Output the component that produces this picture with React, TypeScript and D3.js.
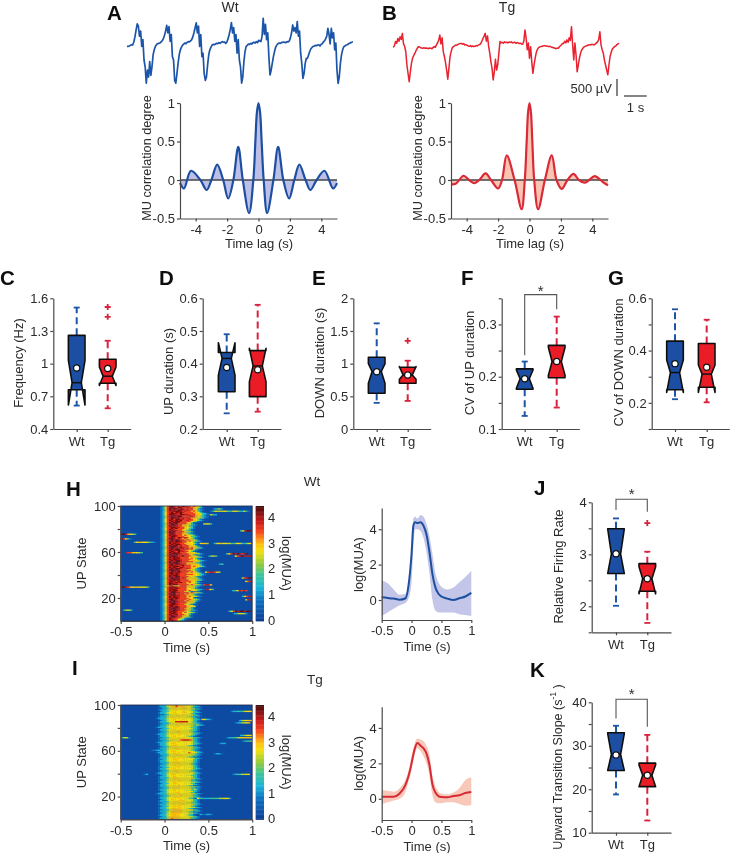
import React, { useEffect, useRef } from 'react';
import * as d3 from 'd3';

const FONT = '"Liberation Sans", Arial, sans-serif';
const BLUE = '#1b4fa4';
const RED = '#ec1c26';
const WHISK_RED = '#d8243c';
const INK = '#2b2b2b';
const AXIS = '#4a4a4a';

// raw LFP traces, one sample every 0.05 s, in uV
const traceDt = 0.05;
const traceWt = [
  -100, -100, -90, -70, -50, -60, 30, 180, 380, 560,
  500, 200, 350, -100, 100, -500, -700, -1180, -800, -1000,
  -550, -950, -700, -350, -200, -100, -50, -20, -10, 0,
  30, 60, 130, 220, 350, 520, 300, 480, 50, 250,
  -400, -500, -1100, -1180, -900, -600, -350, -200, -120, -60,
  -30, 0, -20, 20, 40, 30, 60, 100, 180, 300,
  450, 590, 300, 500, -100, 250, -400, -300, -900, -1100,
  -1000, -650, -350, -200, -120, -60, -40, -50, -30, -10,
  -20, 10, -10, 20, 40, 20, 30, -10, 30, 120,
  250, 400, 600, 300, 450, 50, 250, -300, 100, -500,
  -700, -1180, -1000, -550, -250, -100, -70, -30, -40, -10,
  -30, 10, 20, 0, 40, 10, 80, 60, 40, 200,
  725, 250, 550, 100, 300, -400, -940, -800, -600, -400,
  -250, -120, -60, -20, 0, -10, 10, 20, 30, 20,
  10, 40, 30, 60, 150, 300, 530, 350, 450, 300,
  630, 200, 350, -300, -600, -1040, -900, -600, -450, -450,
  -350, -250, -170, -130, -100, -90, -70, -80, -60, -50,
  -90, -40, -20, 30, 60, 120, 200, 430, 250, -30,
  430, 150, 300, -200, 0, -800, -1186, -1000, -600, -350,
  -200, -110, -90, -60, -50, -30, -10, 10, 20, 40,
];
const traceTg = [
  20, 70, 190, 140, 280, 200, 330, 250, 430, 120,
  50, -110, -500, -750, -990, -700, -450, -300, -220, -160,
  -80, -20, 40, 30, 10, 0, -10, 10, -10, 0,
  -10, -20, 0, -10, -20, 10, 40, 20, 90, 150,
  235, 380, 120, 300, -100, -250, -420, -650, -920, -600,
  -255, -100, 10, 40, 60, 90, 80, 110, 120, 135,
  135, 110, 130, 90, 100, 80, 60, 50, 70, 40,
  60, 40, 50, 70, 60, 90, 100, 130, 200, 280,
  350, 430, 200, 350, 50, -150, -400, -600, -940, -700,
  -330, -650, -500, -150, 190, 150, 170, 140, 180, 160,
  170, 150, 175, 165, 180, 150, 160, 170, 140, 160,
  150, 130, 140, 120, 110, 200, 530, 300, -50, 150,
  -300, 40, -400, -745, -500, -300, -130, -40, 10, 30,
  40, 50, 60, 70, 60, 60, 50, 40, 50, 30,
  20, 10, 0, -20, -10, -10, 20, 60, 90, 130,
  130, 200, 150, 240, 170, 300, 220, 627, 100, -350,
  150, -200, -700, -500, -300, -150, -60, -10, 30, 50,
  60, 80, 90, 100, 90, 110, 100, 90, 120, 150,
  180, 250, 480, 100, -50, -150, -350, -500, -650, -790,
  -500, -250, -120, -30, 10, 40, 60, 100, 120, 135,
];

// MU correlation vs lag
const lagWt = [-5, -4.75, -4.3, -3.7, -3.3, -3, -2.63, -2.25, -1.93, -1.6, -1.29, -1, -0.6, -0.33, -0.2, -0.1, 0, 0.1, 0.2, 0.33, 0.55, 0.95, 1.25, 1.58, 1.95, 2.28, 2.6, 3, 3.3, 3.7, 4.2, 4.75, 5];
const corrWt = [-0.04, -0.11, 0.12, 0, -0.13, 0, 0.2, 0, -0.24, 0, 0.43, 0, -0.43, 0, 0.5, 0.88, 1, 0.88, 0.5, 0, -0.43, 0, 0.43, 0, -0.24, 0, 0.2, 0, -0.13, 0, 0.12, -0.11, -0.04];
const lagTg = [-5, -4.7, -4.2, -3.85, -3.5, -3.2, -2.8, -2.45, -2, -1.75, -1.45, -0.95, -0.5, -0.3, -0.18, -0.09, 0, 0.09, 0.18, 0.3, 0.55, 0.98, 1.42, 1.72, 2.05, 2.42, 2.8, 3.15, 3.5, 3.8, 4.15, 4.7, 5];
const corrTg = [-0.055, -0.05, 0.055, 0, -0.04, 0, 0.085, 0, -0.11, 0, 0.32, 0, -0.38, 0, 0.5, 0.88, 1, 0.88, 0.5, 0, -0.38, 0, 0.32, 0, -0.115, 0, 0.08, 0, -0.035, 0, 0.05, -0.03, -0.07];

// box stats: q1, median, q3, notch low, notch high, whisker low, whisker high, mean
const freqWt = [0.76, 0.825, 1.26, 0.62, 1.03, 0.615, 1.515, 0.96];
const freqTg = [0.82, 0.885, 1.04, 0.8, 0.97, 0.59, 1.21, 0.955];
const freqTgOut = [1.43, 1.52];
const upDurWt = [0.314, 0.416, 0.434, 0.365, 0.464, 0.248, 0.49, 0.388];
const upDurTg = [0.299, 0.393, 0.44, 0.345, 0.447, 0.253, 0.58, 0.381];
const downDurWt = [0.546, 0.88, 1.097, 0.7, 1.0, 0.4, 1.617, 0.877];
const downDurTg = [0.7, 0.827, 0.944, 0.76, 0.955, 0.43, 1.045, 0.827];
const downDurTgOut = [1.35];
const cvUpWt = [0.176, 0.196, 0.215, 0.178, 0.213, 0.125, 0.229, 0.196];
const cvUpTg = [0.198, 0.229, 0.26, 0.203, 0.256, 0.141, 0.315, 0.229];
const cvDownWt = [0.25, 0.316, 0.436, 0.24, 0.364, 0.214, 0.558, 0.35];
const cvDownTg = [0.26, 0.31, 0.427, 0.24, 0.345, 0.202, 0.518, 0.336];
const relRateWt = [2.63, 3.01, 3.49, 2.63, 3.49, 2.01, 3.69, 3.01];
const relRateTg = [2.29, 2.53, 2.82, 2.24, 2.76, 1.68, 3.05, 2.53];
const relRateTgOut = [3.6];
const slopeWt = [24.3, 28, 33, 24.3, 32.8, 18.8, 34.6, 27.9];
const slopeTg = [20.6, 23.2, 26, 20.6, 25.6, 12.8, 32.5, 23.2];

// population MUA, mean with upper/lower band
const muaTime = [-0.5, -0.4, -0.3, -0.2, -0.1, -0.05, 0, 0.03, 0.06, 0.1, 0.15, 0.2, 0.25, 0.3, 0.35, 0.4, 0.45, 0.5, 0.6, 0.7, 0.8, 0.9, 1];
const muaWt = [0.15, 0.12, 0.08, 0.02, 0.1, 0.85, 2.6, 4.2, 4.4, 4.35, 4.4, 4.2, 3.7, 2.7, 1.45, 0.7, 0.35, 0.2, 0.08, 0, 0.1, 0.2, 0.4];
const muaWtHi = [1.1, 0.95, 0.6, 0.3, 0.35, 0.9, 2.5, 4.6, 4.7, 4.6, 4.8, 4.7, 4.3, 3.6, 2.6, 1.5, 1, 0.75, 0.6, 0.7, 1, 1.3, 1.65];
const muaWtLo = [-0.9, -0.7, -0.5, -0.3, -0.15, 0.1, 1, 3, 4, 4, 3.9, 3.5, 2.7, 1.5, 0, -0.6, -0.7, -0.7, -0.7, -0.7, -0.8, -0.85, -0.9];
const muaTg = [0.12, 0.12, 0.12, 0.3, 0.8, 1.3, 2, 2.5, 2.9, 3.15, 3, 2.85, 2.55, 1.9, 0.8, 0.35, 0.15, 0.1, 0.08, 0.15, 0.2, 0.32, 0.38];
const muaTgHi = [0.5, 0.45, 0.4, 0.6, 1.1, 1.6, 2.4, 2.8, 3.2, 3.4, 3.35, 3.25, 3, 2.5, 1.3, 0.7, 0.4, 0.3, 0.25, 0.35, 0.6, 1.05, 1.2];
const muaTgLo = [-0.3, -0.2, -0.1, 0, 0.4, 1, 1.6, 2.2, 2.6, 2.85, 2.7, 2.4, 2, 1.3, 0.2, -0.2, -0.25, -0.25, -0.2, -0.2, -0.3, -0.4, -0.35];

// heat map levels, one char per 0.025 s, first row is UP state 100
const heatLevels: Record<string, number> = { '0': 0.2, '1': 0.8, '2': 1.3, '3': 1.8, '4': 2.45, '5': 2.7, '6': 3.0, '7': 3.5, '8': 3.9, '9': 4.3 };
const heatStep = 0.025;
const heatWtStart = -0.05;
const heatWtRows = [
  '1257998787987767653', '12578987997787765431', '1257989978877776531', '12579887998787765321', '1247889998787767531',
  '12578979898777766531', '1257899889777777654321', '12579988799887776653211', '125788989877787765431', '1247898899777787654321',
  '125789988787876665431', '1257897998877876531', '12579889897787765421', '125789899877775431', '1257989987776531',
  '1247898977776531', '12578998776654321', '1257988877665321', '1247899887765431', '1257898977765321',
  '125798877765431', '125789887765321', '1247989777765431', '125799877765321', '1257898777665321',
  '12579898776765431', '124789987776653321', '12578987987875431', '12579987876765421', '125789898776765431',
  '1257898998776765421', '12579889887765531', '124798988776665421', '12578989987766531', '125798997877766531',
  '1257899888777665421', '12479988798776765431', '125789899787877531', '12579889987765431', '1257898798877531',
  '124798989777666531', '12578999887776665421', '12579889877776531', '1247899878977765421', '12579899877776665431',
  '125788989777767531', '1247989988777765421', '125789899877766654321', '12579889987777765431', '1247989987776665321',
  '12578989987766665431', '12579988789777666531', '124788999787776765431', '1257989879877766531', '125789899877876531',
  '1257998987776654321', '124789989777776531', '1257898898777675421', '12579989877766665431', '125789898777777654321',
  '12479899877766665431', '125798899777765431', '1257898987876665431', '12478998977765564321', '12579899877776665431',
  '125789879777776531', '1247988989776765421', '125799887777665431', '12579899777776765431', '1256776667776654321',
  '124789987777666531', '12579889877765431', '12578998777765654321', '1257989977776765431', '124789987776531',
  '12578998877776765431', '125798977776765321', '12478998877765431', '1257989887776765421', '125798998777665',
  '124789898777765321', '1257998877776765431', '125789987776765431', '1247989887776665', '12578998777765421',
  '125789988776531', '12579988777766531', '1247898987776665', '1257989987776531', '125789988776543',
  '12579899877765321', '124789987776531', '12579898776765431', '125789987765531', '124798897776531',
  '1257898877665', '125789987765431', '1247988776521', '125798775431', '125789875321',
];
const heatWtExtras: [number, number, string][] = [
  [98, 0.56, '2342'], [96, 0.52, '135444543345432431'], [79, 0.86, '35899'],
  [76, -0.5, '9986543'], [72, -0.5, '97531'], [69, -0.35, '3566554321'],
  [68, 0.56, '24565544335542345'], [60, -0.45, '87766543'], [59, 0.7, '3579898789'],
  [57, 0.8, '57898888'], [57, 0.5, '2443'], [50, 0.62, '23'], [43, 0.46, '5788764'],
  [38, 0.88, '47899'], [35, 0.92, '5788'], [30, -0.5, '9987656655543'], [27, 0.77, '2358787'],
  [22, 0.88, '25788'], [19, 0.92, '4888'], [10, -0.47, '3653'], [9, 0.73, '3579899899'],
  [7, 0.79, '235542'], [68, 0.4, '5664'], [85, 0.44, '4553'], [32, 0.44, '7886'], [28, 0.46, '8853'], [93, 0.52, '532'],
];
const heatTgStart = -0.1;
const heatTgRows = [
  '01223566676665554321', '012234566766655543221', '00122456565566553210', '011223456556665554321', '0122345556555554321',
  '00122345555565554321', '012234556555665543321', '01223455565555543210', '00012345555565554321', '012234555665555443321',
  '0122345655555544321', '122234555565555543210', '012234556555655543321', '00122455555655554321', '01223455565555543210',
  '012223455556655543321', '0012234555565555443210', '01223455565555544321', '012234555565555543210', '122234555655555433210',
  '00122345555655554321', '012234556555555433210', '01223455556555544321', '00122455566555543210', '012234555565555543321',
  '12223456555655554321', '01223455556555443210', '0122345565555543210', '011223455565555543321', '01223455555665554321',
  '012234565555555443210', '00122345556555554321', '122234555565555543210', '012234566555555543321', '01223455565555554321',
  '0122345665555543210', '00122345565555544321', '012234556555555543321', '01223455566555554321', '00122455555555543210',
  '012234566555655554321', '1222345555655554321', '012234556555555443210', '012223555665555544321', '00122455555655554321',
  '0122345565555543210', '012234555565655544321', '011224556655555553210', '01223455565555544321', '012234555565555543210',
  '01222355665555554321', '0012245555655554321', '012234556556555543210', '01223455566555554321', '011223455565555443210',
  '012234556555555543321', '01223455556555554321', '00122355665555543210', '01223455565555544321', '122234555565555554321',
  '012234566555555543210', '00122455555655443321', '01223455655555554321', '012223556655555543210', '012234555565555544321',
  '01122455655555553210', '01223455556655543321', '012234556555555544321', '00122355665555543210', '01223455556555554321',
  '0122345565655543210', '012234555565555544321', '0112235566555554321', '012234555565555543210', '01223455655555443321',
  '00122455556555554321', '01223455566555543210', '122234555565555544321', '012234556556555543210', '00122345555655554321',
  '012234556665555443321', '0122345555655543210', '00122456555655544321', '01223455556665554321', '012223556655555543210',
  '01122455556655443321', '012234556555655544321', '01223455556655554321', '00122355666555543210', '012234555566555544321',
  '0122345666655543210', '00122345666655554321', '012234566666555543321', '0122345666665543210', '00122456666655544321',
  '012234666665554321', '0122345666655543210', '00122466666555544321', '01223466666555543321', '0122346766665554321',
];
const heatTgExtras: [number, number, string][] = [
  [95, 0.75, '1223334556'], [88, 0.42, '45321'], [87, 0.85, '245566'], [85, 0.8, '1234556'],
  [86, 0.12, '88888854321'], [74, 0.86, '234556'], [72, 0.7, '122334556665'], [69, 0.88, '12334'],
  [72, -0.49, '3541'], [67, 0.62, '122'], [70, 0.18, '78887'], [61, -0.15, '1122'],
  [59, 0.27, '7654321'], [58, 0.56, '1221'], [40, -0.24, '12'], [40, 0.77, '12334455'],
  [19, 0.37, '5332223333445541'], [5, 0.4, '211221'], [27, 0.31, '3421'], [83, 0.36, '4321'],
];

const colorbarTicks = [0, 1, 2, 3, 4];
const jetDomain = [0, 0.2, 0.8, 1.3, 1.8, 2.2, 2.7, 3.0, 3.5, 3.9, 4.3, 4.5];
const jetColors = ['#0a3a8f', '#0c4ca2', '#0f6fc0', '#19b5d8', '#3cc59a', '#8ccb3f', '#f0e010', '#fcc010', '#f5401e', '#c81a1a', '#701010', '#3e0c0c'];

type Sel = d3.Selection<any, unknown, null, undefined>;

function text(g: Sel, x: number, y: number, s: string, o: { anchor?: string; rot?: boolean; size?: number; weight?: string; fill?: string } = {}) {
  const t = g.append('text')
    .attr('font-family', FONT)
    .attr('font-size', o.size || 13)
    .attr('font-weight', o.weight || 'normal')
    .attr('fill', o.fill || INK)
    .attr('text-anchor', o.anchor || 'middle')
    .attr('dominant-baseline', 'central')
    .text(s);
  if (o.rot) t.attr('transform', `translate(${x},${y}) rotate(-90)`);
  else t.attr('x', x).attr('y', y);
  return t;
}

function letter(g: Sel, x: number, y: number, s: string) {
  g.append('text').attr('x', x).attr('y', y)
    .attr('font-family', FONT).attr('font-size', 20.5).attr('font-weight', 'bold').attr('fill', '#111')
    .text(s);
}

function styleAxis(a: Sel) {
  a.selectAll('path,line').attr('stroke', AXIS).attr('stroke-width', 1.2);
  a.selectAll('text').attr('font-family', FONT).attr('font-size', 13).attr('fill', INK);
}

function leftAxis(g: Sel, x: number, y: d3.ScaleLinear<number, number>, ticks: number[], labels: Map<number, string>) {
  const a = g.append('g').attr('transform', `translate(${x},0)`)
    .call(d3.axisLeft(y).tickValues(ticks).tickSize(3).tickSizeOuter(0).tickPadding(2).tickFormat((d: any) => labels.get(+d) ?? ''));
  styleAxis(a);
}

function bottomAxis(g: Sel, y: number, x: d3.ScaleLinear<number, number>, ticks: number[], fmt: (d: number) => string) {
  const a = g.append('g').attr('transform', `translate(0,${y})`)
    .call(d3.axisBottom(x).tickValues(ticks).tickSize(3).tickSizeOuter(0).tickPadding(3).tickFormat((d: any) => fmt(+d)));
  styleAxis(a);
}

function trace(g: Sel, vals: number[], xr: [number, number], yr: [number, number], color: string, width: number) {
  const x = d3.scaleLinear().domain([0, 10]).range(xr);
  const y = d3.scaleLinear().domain([-1200, 600]).range(yr);
  g.append('path')
    .attr('d', d3.line<number>().x((_, i) => x(i * traceDt)).y((d) => y(d))(vals))
    .attr('fill', 'none').attr('stroke', color).attr('stroke-width', width).attr('stroke-linejoin', 'round');
  return { x, y };
}

function corrPanel(g: Sel, left: number, lags: number[], vals: number[], line: string, fill: string) {
  const x = d3.scaleLinear().domain([-5, 5]).range([left, left + 157]);
  const y = d3.scaleLinear().domain([-0.5, 1]).range([218.5, 103]);
  const pts = lags.map((l, i) => [l, vals[i]] as [number, number]);
  const curve = d3.curveCatmullRom.alpha(0.5);
  g.append('path')
    .attr('d', d3.area<[number, number]>().curve(curve).x((d) => x(d[0])).y0(y(0)).y1((d) => y(d[1]))(pts))
    .attr('fill', fill);
  g.append('line').attr('x1', x(-5)).attr('x2', x(5)).attr('y1', y(0)).attr('y2', y(0)).attr('stroke', '#444').attr('stroke-width', 1.3);
  g.append('path')
    .attr('d', d3.line<[number, number]>().curve(curve).x((d) => x(d[0])).y((d) => y(d[1]))(pts))
    .attr('fill', 'none').attr('stroke', line).attr('stroke-width', 2.2);
  leftAxis(g, left, y, [-0.5, 0, 0.5, 1], new Map([[-0.5, '-0.5'], [0, '0'], [0.5, '0.5'], [1, '1']]));
  bottomAxis(g, 218.5, x, [-4, -2, 0, 2, 4], (d) => String(d));
  text(g, left + 79, 243.5, 'Time lag (s)');
  text(g, left - 33.5, 158, 'MU correlation degree', { rot: true, size: 12.7 });
}

function boxMark(g: Sel, x: number, y: d3.ScaleLinear<number, number>, s: number[], fill: string, whisk: string, out: number[] = []) {
  const [q1, med, q3, nLo, nHi, wLo, wHi, mean] = s;
  const w = 8.3;
  const n = 4.6;
  const seg = (v0: number, v1: number) =>
    g.append('line').attr('x1', x).attr('x2', x).attr('y1', y(v0)).attr('y2', y(v1))
      .attr('stroke', whisk).attr('stroke-width', 2).attr('stroke-dasharray', '7 4');
  seg(q3, wHi);
  seg(q1, wLo);
  [wLo, wHi].forEach((v) => {
    g.append('line').attr('x1', x - 3).attr('x2', x + 3).attr('y1', y(v)).attr('y2', y(v)).attr('stroke', whisk).attr('stroke-width', 1.8);
  });
  const outline: [number, number][] = [
    [x - w, y(q3)], [x + w, y(q3)], [x + w, y(nHi)], [x + n, y(med)], [x + w, y(nLo)], [x + w, y(q1)],
    [x - w, y(q1)], [x - w, y(nLo)], [x - n, y(med)], [x - w, y(nHi)],
  ];
  g.append('path').attr('d', d3.line()(outline) + 'Z')
    .attr('fill', fill).attr('stroke', '#111').attr('stroke-width', 1.6).attr('stroke-linejoin', 'round');
  g.append('line').attr('x1', x - n).attr('x2', x + n).attr('y1', y(med)).attr('y2', y(med)).attr('stroke', '#111').attr('stroke-width', 1.5);
  g.append('circle').attr('cx', x).attr('cy', y(mean)).attr('r', 3.1).attr('fill', '#fff').attr('stroke', '#111').attr('stroke-width', 1.2);
  out.forEach((v) => {
    g.append('path').attr('d', `M${x - 3},${y(v)}H${x + 3}M${x},${y(v) - 3}V${y(v) + 3}`).attr('stroke', whisk).attr('stroke-width', 1.8);
  });
}

type BoxCfg = {
  left: number; right: number; wt: number; tg: number; top: number; bottom: number;
  domain: [number, number]; ticks: number[]; labels: [number, string][];
  label: string; labelX: number; labelY: number;
  a: number[]; b: number[]; outB?: number[]; catY: number;
  bracket?: [number, number, number, number, number];
};

function boxPanel(g: Sel, c: BoxCfg) {
  const y = d3.scaleLinear().domain(c.domain).range([c.bottom, c.top]);
  const x = d3.scaleLinear().domain([c.left, c.right]).range([c.left, c.right]);
  if (c.bracket) {
    const [wtEnd, tgEnd, topV, starX, starY] = c.bracket;
    g.append('path').attr('d', `M${c.wt},${y(wtEnd)}V${y(topV)}H${c.tg}V${y(tgEnd)}`)
      .attr('fill', 'none').attr('stroke', '#555').attr('stroke-width', 1.1);
    text(g, starX, starY + 2, '*', { size: 15 });
  }
  boxMark(g, c.wt, y, c.a, BLUE, '#1f55a6');
  boxMark(g, c.tg, y, c.b, RED, WHISK_RED, c.outB || []);
  leftAxis(g, c.left, y, c.ticks, new Map(c.labels));
  const names = new Map([[c.wt, 'Wt'], [c.tg, 'Tg']]);
  const bottom = g.append('g').attr('transform', `translate(0,${c.bottom})`)
    .call(d3.axisBottom(x).tickValues([c.wt, c.tg]).tickSize(3).tickSizeOuter(0).tickFormat(() => ''));
  styleAxis(bottom);
  names.forEach((s, px) => text(g, px, c.catY, s));
  if (c.label) text(g, c.labelX, c.labelY, c.label, { rot: true });
}

function heatPanel(g: Sel, id: string, top: number, bottom: number, rows: string[], start: number, extras: [number, number, string][], color: d3.ScaleLinear<string, string>) {
  const x = d3.scaleLinear().domain([-0.5, 1]).range([120.7, 252.2]);
  const y = d3.scaleLinear().domain([0, 100]).range([bottom, top]);
  g.append('clipPath').attr('id', id).append('rect').attr('x', x(-0.5)).attr('y', top).attr('width', x(1) - x(-0.5)).attr('height', bottom - top);
  const holder = g.append('g').attr('clip-path', `url(#${id})`);
  holder.append('rect').attr('x', x(-0.5)).attr('y', top).attr('width', x(1) - x(-0.5)).attr('height', bottom - top).attr('fill', color(0.2));
  const cells = holder.append('g').attr('filter', 'url(#softer)');
  const paintRow = (state: number, t0: number, s: string) => {
    s.split('').forEach((ch, i) => {
      if (ch === '0') return;
      const ta = t0 + i * heatStep;
      cells.append('rect').attr('x', x(ta)).attr('y', y(state))
        .attr('width', x(ta + heatStep) - x(ta) + 0.3).attr('height', y(state - 1) - y(state) + 0.2)
        .attr('fill', color(heatLevels[ch]));
    });
  };
  rows.forEach((r, i) => paintRow(100 - i, start, r));
  extras.forEach(([state, t0, s]) => paintRow(state, t0, s));
  g.append('rect').attr('x', x(-0.5)).attr('y', top).attr('width', x(1) - x(-0.5)).attr('height', bottom - top)
    .attr('fill', 'none').attr('stroke', '#1c2440').attr('stroke-width', 0.8);
  leftAxis(g, x(-0.5), y, [20, 40, 60, 80, 100], new Map([[20, '20'], [60, '60'], [100, '100']]));
  bottomAxis(g, bottom, x, [-0.5, 0, 0.5, 1], (d) => String(d));
  text(g, 186.5, bottom + 26, 'Time (s)');
  text(g, 81.5, (top + bottom) / 2, 'UP State', { rot: true });

  // colour bar
  const cy = d3.scaleLinear().domain([0, 4.5]).range([bottom, top]);
  d3.range(0, 4.5, 0.05).forEach((v) => {
    g.append('rect').attr('x', 255.7).attr('width', 8.3).attr('y', cy(v + 0.05)).attr('height', cy(v) - cy(v + 0.05) + 0.4).attr('fill', color(v));
  });
  colorbarTicks.forEach((v) => text(g, 268, cy(v) - 1, String(v), { anchor: 'start' }));
  const lab = text(g, 288, (top + bottom) / 2, 'log(MUA)');
  lab.attr('x', null).attr('y', null).attr('transform', `translate(286,${(top + bottom) / 2}) rotate(90)`);
}

function muaPanel(g: Sel, top: number, bottom: number, dom: [number, number], mean: number[], hi: number[], lo: number[], band: string, line: string) {
  const x = d3.scaleLinear().domain([-0.5, 1]).range([381.7, 471.3]);
  const y = d3.scaleLinear().domain(dom).range([bottom, top]);
  const idx = muaTime.map((_, i) => i);
  g.append('path')
    .attr('d', d3.area<number>().curve(d3.curveMonotoneX).x((i) => x(muaTime[i])).y0((i) => y(lo[i])).y1((i) => y(hi[i]))(idx))
    .attr('fill', band);
  g.append('path')
    .attr('d', d3.line<number>().curve(d3.curveMonotoneX).x((i) => x(muaTime[i])).y((i) => y(mean[i]))(idx))
    .attr('fill', 'none').attr('stroke', line).attr('stroke-width', 2);
  leftAxis(g, 381.7, y, [0, 2, 4], new Map([[0, '0'], [2, '2'], [4, '4']]));
  bottomAxis(g, bottom, x, [-0.5, 0, 0.5, 1], (d) => String(d));
  text(g, 427, bottom + 26, 'Time (s)');
  text(g, 358.5, y(2), 'log(MUA)', { rot: true });
}

const App = () => {
  const svgRef = useRef<SVGSVGElement>(null);

  useEffect(() => {
    const svg = d3.select(svgRef.current);
    svg.selectAll('*').remove();
    const defs = svg.append('defs');
    defs.append('filter').attr('id', 'soft')
      .attr('filterUnits', 'userSpaceOnUse').attr('x', 0).attr('y', 0).attr('width', 730).attr('height', 853)
      .append('feGaussianBlur').attr('stdDeviation', 0.35);
    defs.append('filter').attr('id', 'softer')
      .append('feGaussianBlur').attr('stdDeviation', 0.4);
    const g: Sel = svg.append('g').attr('filter', 'url(#soft)');

    // top row
    letter(g, 107, 20, 'A');
    letter(g, 382, 20, 'B');
    text(g, 230, 6.5, 'Wt', { size: 14 });
    text(g, 507, 7, 'Tg', { size: 14 });

    trace(g, traceWt, [127, 354], [83.8, 22.6], '#1d55a8', 1.7);
    const tb = trace(g, traceTg, [393.3, 620.3], [88.8, 27.6], '#e8202e', 1.5);

    // scale bars sized from the trace scales
    const barTop = 79;
    const barLen = tb.y(-500) - tb.y(0);
    g.append('line').attr('x1', 617).attr('x2', 617).attr('y1', barTop).attr('y2', barTop + barLen).attr('stroke', '#333').attr('stroke-width', 1.2);
    const secLen = tb.x(1) - tb.x(0);
    g.append('line').attr('x1', 624).attr('x2', 624 + secLen).attr('y1', 96).attr('y2', 96).attr('stroke', '#333').attr('stroke-width', 1.2);
    text(g, 612, 88, '500 µV', { anchor: 'end' });
    text(g, 635.5, 107, '1 s');

    corrPanel(g, 180, lagWt, corrWt, '#1f4f9f', '#bcc0e8');
    corrPanel(g, 451, lagTg, corrTg, '#d92a38', '#fbc4b2');

    // box plots row
    letter(g, 0, 285, 'C');
    letter(g, 159, 285, 'D');
    letter(g, 312, 285, 'E');
    letter(g, 461, 285, 'F');
    letter(g, 608, 285, 'G');

    const rowY = { top: 298.3, bottom: 429, catY: 441 };
    boxPanel(g, {
      ...rowY, left: 53.3, right: 130.7, wt: 76.7, tg: 107.7, domain: [0.4, 1.6],
      ticks: [0.4, 0.7, 1, 1.3, 1.6], labels: [[0.4, '0.4'], [0.7, '0.7'], [1, '1'], [1.3, '1.3'], [1.6, '1.6']],
      label: 'Frequency (Hz)', labelX: 18.5, labelY: 363, a: freqWt, b: freqTg, outB: freqTgOut,
    });
    boxPanel(g, {
      ...rowY, left: 202.7, right: 281, wt: 226.7, tg: 257.7, domain: [0.2, 0.6],
      ticks: [0.2, 0.3, 0.4, 0.5, 0.6], labels: [[0.2, '0.2'], [0.3, '0.3'], [0.4, '0.4'], [0.5, '0.5'], [0.6, '0.6']],
      label: 'UP duration (s)', labelX: 168.5, labelY: 371.5, a: upDurWt, b: upDurTg,
    });
    boxPanel(g, {
      ...rowY, left: 353.3, right: 430.7, wt: 376.7, tg: 407.7, domain: [0, 2],
      ticks: [0, 0.5, 1, 1.5, 2], labels: [[0, '0'], [0.5, '0.5'], [1, '1'], [1.5, '1.5'], [2, '2']],
      label: 'DOWN duration (s)', labelX: 319, labelY: 363, a: downDurWt, b: downDurTg, outB: downDurTgOut,
    });
    boxPanel(g, {
      ...rowY, left: 501.7, right: 579.3, wt: 524.7, tg: 556.7, domain: [0.1, 0.35],
      ticks: [0.1, 0.15, 0.2, 0.25, 0.3, 0.35], labels: [[0.1, '0.1'], [0.2, '0.2'], [0.3, '0.3']],
      label: 'CV of UP duration', labelX: 469, labelY: 363, a: cvUpWt, b: cvUpTg,
      bracket: [0.241, 0.329, 0.357, 540.7, 288],
    });
    boxPanel(g, {
      ...rowY, left: 651.7, right: 729.3, wt: 675, tg: 706.7, domain: [0.1, 0.6],
      ticks: [0.1, 0.2, 0.3, 0.4, 0.5, 0.6], labels: [[0.2, '0.2'], [0.4, '0.4'], [0.6, '0.6']],
      label: 'CV of DOWN duration', labelX: 618.7, labelY: 362.5, a: cvDownWt, b: cvDownTg,
    });

    // heat maps
    const jet = d3.scaleLinear<string>().domain(jetDomain).range(jetColors).clamp(true);
    letter(g, 66, 496, 'H');
    letter(g, 72, 675, 'I');
    text(g, 312, 481, 'Wt', { size: 13.5 });
    text(g, 315, 679, 'Tg', { size: 13.5 });
    heatPanel(g, 'heatWt', 506, 621, heatWtRows, heatWtStart, heatWtExtras, jet);
    heatPanel(g, 'heatTg', 705, 819.5, heatTgRows, heatTgStart, heatTgExtras, jet);

    muaPanel(g, 508, 620, [-1.13, 5.2], muaWt, muaWtHi, muaWtLo, '#c3c6e8', '#1f4f9f');
    muaPanel(g, 706.7, 820, [-1.2, 5.2], muaTg, muaTgHi, muaTgLo, '#f8c8b8', '#d62a36');

    // J, K
    letter(g, 534, 495, 'J');
    letter(g, 530, 677, 'K');
    boxPanel(g, {
      left: 591.7, right: 671, wt: 616, tg: 647.3, top: 502.3, bottom: 632.3, catY: 644, domain: [1.5, 4],
      ticks: [1.5, 2, 2.5, 3, 3.5, 4], labels: [[2, '2'], [3, '3'], [4, '4']],
      label: 'Relative Firing Rate', labelX: 558, labelY: 566.5, a: relRateWt, b: relRateTg, outB: relRateTgOut,
      bracket: [3.85, 3.82, 4.06, 631.7, 491],
    });
    boxPanel(g, {
      left: 591.7, right: 671, wt: 616, tg: 647.3, top: 702.3, bottom: 832.7, catY: 844, domain: [10, 40],
      ticks: [10, 15, 20, 25, 30, 35, 40], labels: [[10, '10'], [20, '20'], [30, '30'], [40, '40']],
      label: '', labelX: 558, labelY: 767, a: slopeWt, b: slopeTg,
      bracket: [36.3, 34.4, 40.7, 631.7, 691.7],
    });
    const slopeLabel = text(g, 558, 767, 'Upward Transition Slope (s', { rot: true, size: 12.5 });
    slopeLabel.append('tspan').attr('dy', -5).attr('font-size', 8.5).text('-1');
    slopeLabel.append('tspan').attr('dy', 5).text(' )');
  }, []);

  return <svg ref={svgRef} width={730} height={853} style={{ position: 'absolute', left: 0, top: 0, display: 'block', background: '#fff' }} />;
};

export default App;
